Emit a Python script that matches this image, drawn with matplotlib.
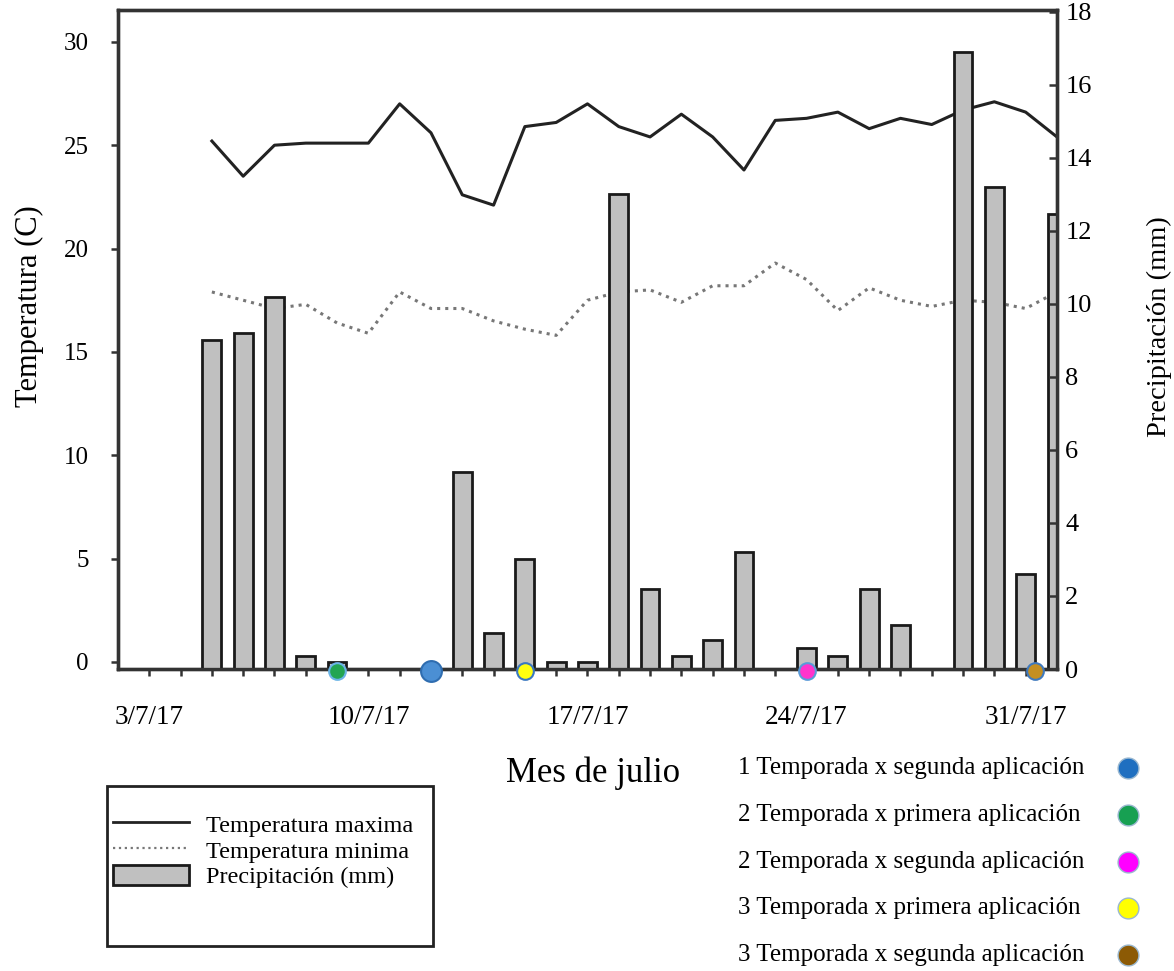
import matplotlib
matplotlib.use('Agg')
import matplotlib.pyplot as plt
from matplotlib.lines import Line2D
from matplotlib.patches import Patch, Rectangle

plt.rcParams['font.family'] = ['Liberation Serif', 'DejaVu Serif']

# dias de julio (32 = 1 de agosto)
dias_temp = list(range(5, 33))
tmax = [25.2, 23.5, 25.0, 25.1, 25.1, 25.1, 27.0, 25.6, 22.6, 22.1,
        25.9, 26.1, 27.0, 25.9, 25.4, 26.5, 25.4, 23.8, 26.2, 26.3,
        26.6, 25.8, 26.3, 26.0, 26.7, 27.1, 26.6, 25.4]
tmin = [17.9, 17.5, 17.1, 17.3, 16.4, 15.9, 17.9, 17.1, 17.1, 16.5,
        16.1, 15.8, 17.5, 17.9, 18.0, 17.4, 18.2, 18.2, 19.3, 18.5,
        17.0, 18.1, 17.5, 17.2, 17.5, 17.4, 17.1, 17.9]

dias_lluvia = [5, 6, 7, 8, 9, 13, 14, 15, 16, 17, 18, 19, 20, 21, 22,
               24, 25, 26, 27, 29, 30, 31, 32]
precip = [9.0, 9.2, 10.2, 0.36, 0.2, 5.4, 1.0, 3.0, 0.2, 0.2, 13.0, 2.2,
          0.36, 0.8, 3.2, 0.57, 0.36, 2.2, 1.2, 16.9, 13.2, 2.6, 12.45]

# fechas de aplicacion
aplicaciones = ['1 Temporada x segunda aplicación',
                '2 Temporada x primera aplicación',
                '2 Temporada x segunda aplicación',
                '3 Temporada x primera aplicación',
                '3 Temporada x segunda aplicación']
dias_aplic = [12, 9, 24, 15, 31.3]
col_punto = ['#4b8fd4', '#22a552', '#ff33cc', '#ffff10', '#c48f22']
col_borde = ['#2f6db0', '#6ab4e6', '#5a9ad8', '#3a78c0', '#3f79bd']
col_leyenda = ['#1f6fc0', '#17a052', '#ff00ff', '#ffff00', '#8c5a05']

dias_ticks = [3, 10, 17, 24, 31]
etiquetas_x = ['3/7/17', '10/7/17', '17/7/17', '24/7/17', '31/7/17']

fig = plt.figure(figsize=(11.74, 9.71), dpi=100)
ax = fig.add_axes([0.1005, 0.311, 0.7998, 0.6787])
ax2 = ax.twinx()

ax.plot(dias_temp, tmax, color='#222222', lw=2.2)
ax.plot(dias_temp, tmin, color='#777777', lw=2.2, ls=':')

ax2.bar(dias_lluvia, precip, width=0.6, color='#c0c0c0',
        edgecolor='#1a1a1a', linewidth=2)
for d, c, b in zip(dias_aplic, col_punto, col_borde):
    ms = 15 if d == 12 else 12
    ax2.plot([d], [-0.05], marker='o', ms=ms, mfc=c, mec=b, mew=1.5,
             ls='', clip_on=False, zorder=10)

ax.set_xlim(2, 32)
ax.set_ylim(-0.34, 31.54)
ax2.set_ylim(0, 18.05)

ax.set_xticks(dias_ticks)
ax.set_xticklabels(etiquetas_x, fontsize=19.5)
ax.set_xticks(range(3, 32), minor=True)
ax.tick_params(axis='x', which='both', direction='out', length=5,
               width=1.8, pad=21, color='#333333')
ax.set_yticks(range(0, 31, 5))
ax.tick_params(axis='y', direction='out', length=5, width=1.8, pad=16,
               labelsize=18, color='#333333')
ax2.set_yticks(range(0, 19, 2))
ax2.tick_params(axis='y', direction='in', length=6, width=1.8, pad=6,
                labelsize=19, color='#333333')

for a in (ax, ax2):
    for s in a.spines.values():
        s.set_linewidth(2.4)
        s.set_color('#333333')

ax.set_ylabel('Temperatura (C)', fontsize=22)
ax.yaxis.set_label_coords(-0.079, 0.55)
ax2.set_ylabel('Precipitación (mm)', fontsize=20.5)
ax2.yaxis.set_label_coords(1.096, 0.52)

fig.text(593 / 1174, 1 - 773 / 971, 'Mes de julio', fontsize=25,
         ha='center', va='center')

# leyenda de series
fig.add_artist(Rectangle((107 / 1174, 1 - 946 / 971), 326 / 1174,
                         160 / 971, transform=fig.transFigure,
                         fill=False, lw=2, ec='#222222'))
handles = [Line2D([], [], color='#222222', lw=2),
           Line2D([], [], color='#777777', lw=1.6, ls=':'),
           Patch(fc='#c0c0c0', ec='#1a1a1a', lw=2)]
fig.legend(handles, ['Temperatura maxima', 'Temperatura minima',
                     'Precipitación (mm)'],
           loc='upper left', bbox_to_anchor=(101 / 1174, 1 - 801 / 971),
           frameon=False, fontsize=17.5, handlelength=3.1,
           handleheight=0.9, handletextpad=0.7, labelspacing=0.1,
           borderpad=0)

# leyenda de aplicaciones
for i, (txt, c) in enumerate(zip(aplicaciones, col_leyenda)):
    yf = 1 - (768 + i * 46.8) / 971
    fig.text(738 / 1174, yf, txt, fontsize=18, ha='left', va='center')
    fig.add_artist(Line2D([1128 / 1174], [yf], marker='o', ls='', ms=15,
                          mfc=c, mec='#9ab8d0', mew=1,
                          transform=fig.transFigure))

fig.savefig('out.png', dpi=100)
